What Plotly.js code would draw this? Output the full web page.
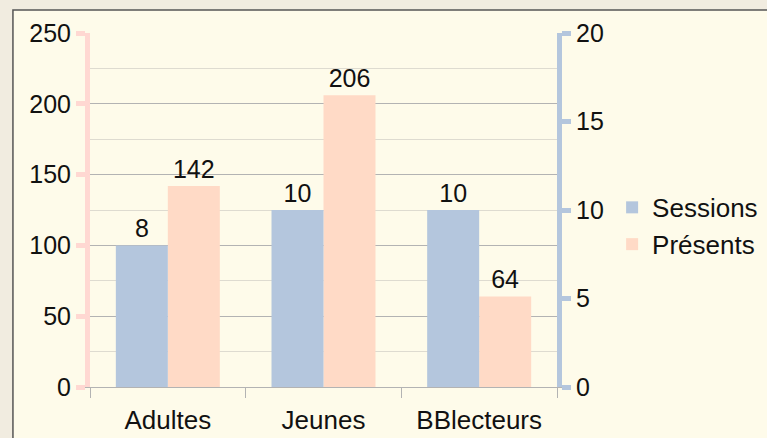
<!DOCTYPE html>
<html>
<head>
<meta charset="utf-8">
<script src="https://cdn.plot.ly/plotly-3.0.1.min.js"></script>
<style>
  html, body { margin: 0; padding: 0; background: #f1ece0; }
  #chart { width: 767px; height: 438px; }
</style>
</head>
<body>
<div id="chart"></div>
<script>
// Data
const categories = ["Adultes", "Jeunes", "BBlecteurs"];
const sessions = [8, 10, 10];
const presents = [142, 206, 64];

const blue = "#b4c6dd";
const peach = "#ffdac6";
const pink = "#ffd8d2";

const traces = [
    {
        type: "bar",
        name: "Sessions",
        x: categories,
        y: sessions,
        yaxis: "y2",
        width: 0.334,
        offset: -0.334,
        marker: {color: blue},
        text: sessions.map(String),
        textposition: "outside",
        textfont: {size: 25, color: "#111"},
        cliponaxis: false
    },
    {
        type: "bar",
        name: "Présents",
        x: categories,
        y: presents,
        yaxis: "y",
        width: 0.334,
        offset: 0,
        marker: {color: peach},
        text: presents.map(String),
        textposition: "outside",
        textfont: {size: 25, color: "#111"},
        cliponaxis: false
    }
];

const layout = {
    width: 767,
    height: 438,
    margin: {l: 90, r: 210, t: 33, b: 51, autoexpand: false},
    paper_bgcolor: "#f1ece0",
    plot_bgcolor: "rgba(0,0,0,0)",
    font: {family: "Liberation Sans, Arial, sans-serif", size: 25, color: "#111"},
    showlegend: true,
    legend: {
        x: 1.118, y: 0.455, xanchor: "left", yanchor: "middle",
        font: {size: 26, color: "#111"},
        bgcolor: "rgba(0,0,0,0)",
        traceorder: "normal",
        itemwidth: 30
    },
    xaxis: {
        showline: true, linecolor: "#b3b3b3", linewidth: 1,
        ticks: "outside", tickson: "boundaries", ticklen: 10, tickcolor: "#b3b3b3",
        tickfont: {size: 26},
        ticklabelstandoff: 10,
        showgrid: false, zeroline: false, fixedrange: true
    },
    yaxis: {
        range: [0, 250], dtick: 50,
        showline: true, linecolor: pink, linewidth: 5,
        ticks: "outside", ticklen: 9, tickwidth: 5, tickcolor: pink,
        tickfont: {size: 25},
        showgrid: true, gridcolor: "#b3b3b3", gridwidth: 1,
        minor: {dtick: 25, showgrid: true, gridcolor: "#dedbd0", ticks: ""},
        zeroline: false, fixedrange: true
    },
    yaxis2: {
        range: [0, 20], dtick: 5, overlaying: "y", side: "right",
        showline: true, linecolor: blue, linewidth: 5,
        ticks: "outside", ticklen: 9, tickwidth: 5, tickcolor: blue,
        tickfont: {size: 25},
        showgrid: false, zeroline: false, fixedrange: true
    },
    shapes: [
        {
            type: "rect", layer: "below",
            xref: "paper", yref: "paper",
            x0: -0.165, x1: 1.6, y0: -0.3, y1: 1.065,
            fillcolor: "#fefbea",
            line: {color: "#555", width: 1.5}
        }
    ]
};

Plotly.newPlot("chart", traces, layout, {displayModeBar: false, staticPlot: true});
</script>
</body>
</html>
